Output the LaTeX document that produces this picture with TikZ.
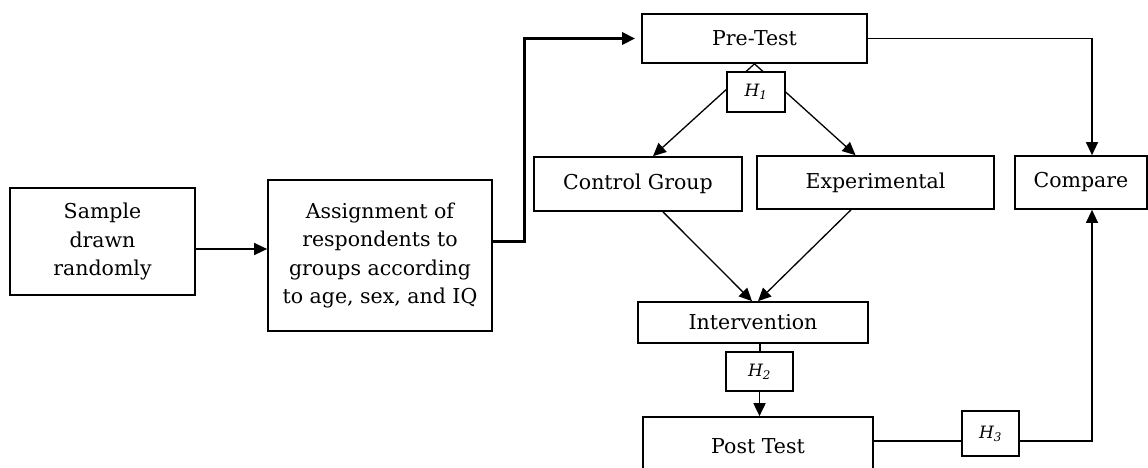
\documentclass[tikz,border=0pt]{standalone}
\usepackage{fontspec}
\setmainfont{DejaVu Serif}
\usetikzlibrary{arrows.meta}
\begin{document}
\begin{tikzpicture}[x=1pt,y=-1pt,
  box/.style={draw, line width=1.7pt, rectangle, inner sep=0pt, align=center,
    font=\fontsize{20.5}{28.3}\selectfont, fill=white},
  hbox/.style={draw, line width=1.5pt, rectangle, inner sep=0pt, fill=white,
    font=\fontsize{17}{20}\selectfont\itshape},
  conn/.style={line width=1.3pt},
  arr/.style={line width=1.3pt, -{Triangle[length=13pt,width=12pt]}},
  thickarr/.style={line width=3pt, -{Triangle[length=13pt,width=12pt]}}]
\useasboundingbox (0,0) rectangle (1148,467);
\clip (0,0) rectangle (1148,467);
\fill[white] (0,0) rectangle (1148,467);

% nodes
\node[box, minimum width=185pt, minimum height=107pt] (Sample) at (102.5,241.5) {Sample\\drawn\\randomly};
\node[box, minimum width=224pt, minimum height=151pt] (Assign) at (380,255.5)
  {Assignment of\\respondents to\\groups according\\to age, sex, and IQ};
\node[box, minimum width=225pt, minimum height=49pt] (PreTest) at (754.5,38.5) {Pre-Test};
\node[box, minimum width=208pt, minimum height=54pt] (Control) at (638,184) {Control Group};
\node[box, minimum width=237pt, minimum height=53pt] (Exper) at (875.5,182.5) {Experimental};
\node[box, minimum width=132pt, minimum height=53pt] (Compare) at (1081,182.5) {Compare};
\node[box, minimum width=230pt, minimum height=41pt] (Interv) at (753,322.5) {Intervention};
\node[box, minimum width=230pt, minimum height=58pt] (PostTest) at (758,446) {Post Test};

% connectors
\draw[arr] ([yshift=-7.5pt]Sample.east) -- ([yshift=-7.5pt]Sample.east -| Assign.west);
\draw[thickarr, shorten >=6pt] ([yshift=14.5pt]Assign.east) -- ++(32,0) |- (PreTest.west);
\draw[arr] (PreTest.south) -- ([xshift=15pt]Control.north);
\draw[arr] (PreTest.south) -- ([xshift=-20pt]Exper.north);
\draw[arr] ([xshift=25pt]Control.south) -- ([xshift=-1pt]Interv.north);
\draw[arr] ([xshift=-24.5pt]Exper.south) -- ([xshift=5pt]Interv.north);

\node[hbox, minimum width=58pt, minimum height=40pt] (H1) at (756,92) {H\textsubscript{1}};
\node[hbox, minimum width=67pt, minimum height=39pt] (H2) at (759.5,371.5) {H\textsubscript{2}};
\node[hbox, minimum width=57pt, minimum height=45pt] (H3) at (990.5,433.5) {H\textsubscript{3}};

\draw[line width=2pt] (Interv.south -| H2) -- (H2.north);
\draw[arr, line width=1.8pt] (H2.south) -- (PostTest.north -| H2);

\coordinate (c3) at (1092,441);
\draw[arr] (PreTest.east) -| ([xshift=11pt]Compare.north);
\draw[conn] (PostTest.east |- c3) -- (H3.west |- c3);
\draw[arr] (H3.east |- c3) -- (c3) -- ([xshift=11pt]Compare.south);
\end{tikzpicture}
\end{document}
